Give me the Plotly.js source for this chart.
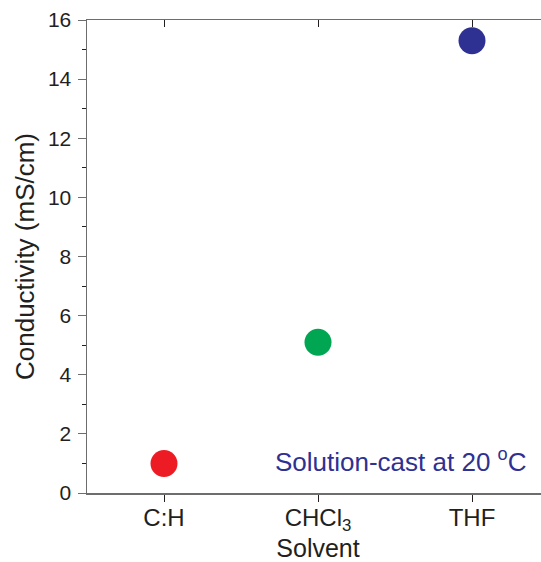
<!DOCTYPE html>
<html><head><meta charset="utf-8">
<script src="https://cdn.plot.ly/plotly-3.0.1.min.js"></script>
<style>html,body{margin:0;padding:0;overflow:hidden;background:#fff}</style>
</head><body>
<div id="chart"></div>
<script>
const categories = ["C:H", "CHCl3", "THF"];
const tickLabels = ["C:H", "CHCl<sub>3</sub>", "THF"];
const conductivity = [1.0, 5.1, 15.3];
const pointColors = ["#ED1C24", "#00A651", "#2E3192"];
const yTickValues = [0, 2, 4, 6, 8, 10, 12, 14, 16];

const axisColor = "#6d6d6d";
const font = "Liberation Sans";

const trace = {
  x: categories,
  y: conductivity,
  type: "scatter",
  mode: "markers",
  marker: {size: 27, color: pointColors, line: {width: 0}},
  showlegend: false
};
const topTrace = {
  x: categories, y: conductivity, xaxis: "x2", yaxis: "y",
  type: "scatter", mode: "markers", marker: {size: 0, opacity: 0},
  hoverinfo: "skip", showlegend: false
};

const layout = {
  width: 560, height: 562,
  margin: {l: 87, r: 11, t: 20, b: 69},
  paper_bgcolor: "#fff", plot_bgcolor: "#fff",
  font: {family: font, color: "#231f20", size: 22},
  xaxis: {
    type: "category",
    range: [-0.5, 2.5],
    tickvals: categories, ticktext: tickLabels,
    showgrid: false, zeroline: false,
    showline: true, linecolor: axisColor, linewidth: 1.5,
    ticks: "outside", ticklen: 7, tickcolor: "#231f20", tickwidth: 1,
    ticklabelstandoff: -4,
    tickfont: {size: 24, family: font, color: "#231f20"},
    title: {text: "Solvent", font: {size: 25, family: font, color: "#231f20"}, standoff: 3}
  },
  xaxis2: {
    type: "category", overlaying: "x", side: "top", matches: "x",
    range: [-0.5, 2.5],
    tickvals: categories, showticklabels: false,
    showgrid: false, zeroline: false,
    showline: true, linecolor: axisColor, linewidth: 1.5,
    ticks: "inside", ticklen: 7, tickcolor: "#231f20", tickwidth: 1
  },
  yaxis: {
    range: [0, 16],
    tickvals: yTickValues,
    showgrid: false, zeroline: false,
    showline: true, linecolor: axisColor, linewidth: 1.5,
    ticks: "outside", ticklen: 8, tickcolor: axisColor, tickwidth: 1,
    ticklabelstandoff: 2,
    tickfont: {size: 21, family: font, color: "#231f20"},
    minor: {dtick: 1, ticks: "outside", ticklen: 4, tickcolor: "#231f20", tickwidth: 1, showgrid: false},
    title: {text: "Conductivity (mS/cm)", font: {size: 26, family: font, color: "#231f20"}, standoff: 6}
  },
  annotations: [{
    xref: "paper", yref: "paper",
    x: 0.955, y: 0.068, xanchor: "right", yanchor: "middle",
    text: "Solution-cast at 20 <sup>o</sup>C",
    showarrow: false,
    font: {size: 26, family: font, color: "#2E3192"}
  }]
};

Plotly.newPlot("chart", [trace, topTrace], layout, {displayModeBar: false, staticPlot: true});
</script>
</body></html>
